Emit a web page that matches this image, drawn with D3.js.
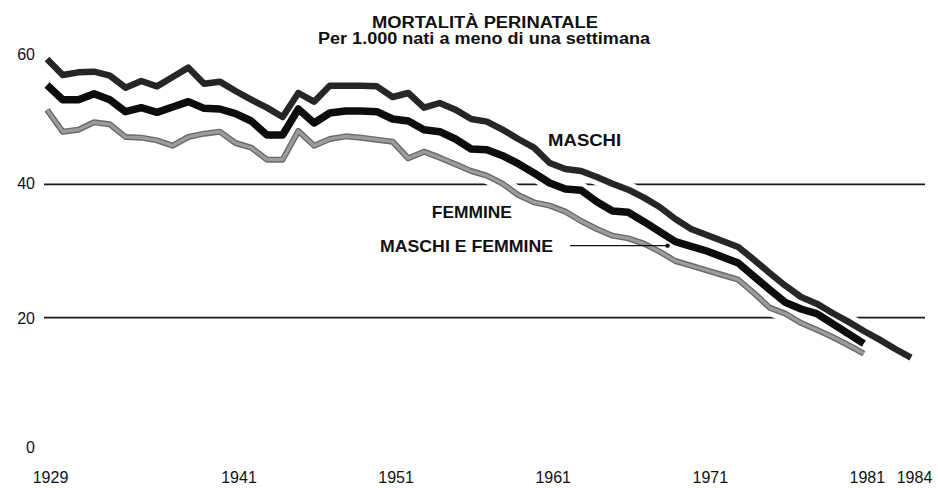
<!DOCTYPE html>
<html>
<head>
<meta charset="utf-8">
<script src="https://cdn.jsdelivr.net/npm/d3@7"></script>
<style>
  body { margin: 0; background: #fff; }
  svg { display: block; }
</style>
</head>
<body>
<div id="chart"></div>
<script>
// Data
const years = [1929, 1930, 1931, 1932, 1933, 1934, 1935, 1936, 1937, 1938,
               1939, 1940, 1941, 1942, 1943, 1944, 1945, 1946, 1947, 1948,
               1949, 1950, 1951, 1952, 1953, 1954, 1955, 1956, 1957, 1958,
               1959, 1960, 1961, 1962, 1963, 1964, 1965, 1966, 1967, 1968,
               1969, 1970, 1971, 1972, 1973, 1974, 1975, 1976, 1977, 1978,
               1979, 1980, 1981, 1982, 1983, 1984];

const maschi = [58.8, 56.4, 56.8, 56.9, 56.3, 54.5, 55.5, 54.7, 56.1, 57.5,
                55.1, 55.4, 54.0, 52.7, 51.5, 50.1, 53.7, 52.4, 54.8, 54.8,
                54.8, 54.7, 53.1, 53.7, 51.5, 52.2, 51.2, 49.8, 49.4, 48.2,
                46.8, 45.5, 43.2, 42.3, 42.0, 41.1, 40.1, 39.2, 38.0, 36.6,
                34.8, 33.3, 32.4, 31.5, 30.6, 28.7, 26.7, 24.8, 23.1, 22.1,
                20.7, 19.4, 18.0, 16.7, 15.3, 14.0];

const maschiEFemmine = [54.9, 52.7, 52.7, 53.6, 52.7, 50.9, 51.5, 50.8, 51.6, 52.4,
                        51.4, 51.3, 50.6, 49.5, 47.4, 47.4, 51.3, 49.2, 50.7, 51.0,
                        51.0, 50.9, 49.8, 49.5, 48.2, 47.9, 46.8, 45.3, 45.2, 44.3,
                        43.1, 41.7, 40.2, 39.3, 39.1, 37.4, 36.0, 35.8, 34.4, 32.9,
                        31.4, 30.7, 30.0, 29.1, 28.2, 26.2, 24.2, 22.3, 21.3, 20.6,
                        19.1, 17.6, 16.1];

const femmine = [51.2, 47.9, 48.2, 49.3, 49.0, 47.1, 47.0, 46.6, 45.8, 47.1,
                 47.6, 47.9, 46.2, 45.5, 43.7, 43.7, 48.0, 45.8, 46.8, 47.2,
                 47.0, 46.7, 46.4, 43.9, 44.9, 44.0, 43.0, 42.0, 41.3, 40.1,
                 38.4, 37.3, 36.8, 35.9, 34.5, 33.3, 32.3, 31.9, 31.1, 29.9,
                 28.5, 27.8, 27.1, 26.4, 25.7, 23.7, 21.5, 20.6, 19.2, 18.2,
                 17.1, 15.9, 14.6];

const yearTicks = [1929, 1941, 1951, 1961, 1971, 1981, 1984];
const valueTicks = [0, 20, 40, 60];
const gridValues = [20, 40];

// Constant
const width = 938;
const height = 488;
const fontFamily = `"Liberation Sans", Arial, Helvetica, sans-serif`;

const xScale = d3.scaleLinear()
                .domain([1929, 1984])
                .range([47, 911]);
const yScale = d3.scaleLinear()
                .domain([0, 60])
                .range([451, 51]);

const series = [
    {name: 'FEMMINE', values: femmine},
    {name: 'MASCHI E FEMMINE', values: maschiEFemmine},
    {name: 'MASCHI', values: maschi}
];

const strokeMap = {
    'MASCHI' : [{color: '#262626', width: 6.5}],
    'MASCHI E FEMMINE' : [{color: '#0d0d0d', width: 7.5}],
    'FEMMINE' : [{color: '#6a6a6a', width: 6}, {color: '#9c9c9c', width: 3.2}]
};

// label positions in data space: [year, value, text length]
const labelMap = {
    'MASCHI' : [1960.9, 45.75, 73],
    'FEMMINE' : [1953.5, 35.0, 80],
    'MASCHI E FEMMINE' : [1950.2, 29.85, 173]
};

// the printed tick labels sit a little off their values
const tickNudge = {0: -4, 20: 1, 40: -1, 60: 3};

const line = d3.line()
    .x((d, i) => xScale(years[i]))
    .y(d => yScale(d));

const svg = d3.select('#chart')
    .append('svg')
        .attr('width', width)
        .attr('height', height)
        .style('background', '#fff');

// title
svg.append('text')
    .attr('x', 485)
    .attr('y', 28)
    .attr('text-anchor', 'middle')
    .attr('textLength', 226)
    .attr('lengthAdjust', 'spacingAndGlyphs')
    .style('font', `bold 16px ${fontFamily}`)
    .attr('fill', '#111')
    .text('MORTALITÀ PERINATALE');

svg.append('text')
    .attr('x', 484)
    .attr('y', 43.5)
    .attr('text-anchor', 'middle')
    .attr('textLength', 332)
    .attr('lengthAdjust', 'spacingAndGlyphs')
    .style('font', `bold 16px ${fontFamily}`)
    .attr('fill', '#111')
    .text('Per 1.000 nati a meno di una settimana');

// grid lines
svg.selectAll('.grid')
    .data(gridValues)
    .join('line')
        .attr('class', 'grid')
        .attr('x1', 44)
        .attr('x2', 925)
        .attr('y1', d => yScale(d))
        .attr('y2', d => yScale(d))
        .attr('stroke', '#1a1a1a')
        .attr('stroke-width', 1.6);

// y axis
const yAxis = svg.append('g')
    .attr('transform', 'translate(35,0)')
    .call(d3.axisLeft(yScale).tickValues(valueTicks).tickSize(0).tickPadding(0))
    .call(g => g.select('.domain').remove());
yAxis.selectAll('text')
    .attr('y', d => tickNudge[d])
    .style('font', `16px ${fontFamily}`)
    .attr('fill', '#111');

// x axis
const xAxis = svg.append('g')
    .attr('transform', 'translate(3,472)')
    .call(d3.axisBottom(xScale).tickValues(yearTicks).tickFormat(d3.format('d')).tickSize(0).tickPadding(0))
    .call(g => g.select('.domain').remove());
xAxis.selectAll('text')
    .style('font', `16px ${fontFamily}`)
    .attr('fill', '#111');

// white halos cut the grid lines where the curves cross
svg.selectAll('.halo')
    .data(series)
    .join('path')
        .attr('class', 'halo')
        .attr('d', d => line(d.values))
        .attr('fill', 'none')
        .attr('stroke', '#fff')
        .attr('stroke-width', 16)
        .attr('stroke-linejoin', 'round');

series.forEach(s => {
    strokeMap[s.name].forEach(st => {
        svg.append('path')
            .attr('d', line(s.values))
            .attr('fill', 'none')
            .attr('stroke', st.color)
            .attr('stroke-width', st.width)
            .attr('stroke-linejoin', 'round');
    });
});

// labels
series.forEach(s => {
    const p = labelMap[s.name];
    svg.append('text')
        .attr('x', xScale(p[0]))
        .attr('y', yScale(p[1]))
        .attr('textLength', p[2])
        .attr('lengthAdjust', 'spacingAndGlyphs')
        .style('font', `bold 17px ${fontFamily}`)
        .attr('fill', '#111')
        .text(s.name);
});

// leader line for MASCHI E FEMMINE
svg.append('line')
    .attr('x1', xScale(1962.3))
    .attr('x2', xScale(1968.5))
    .attr('y1', yScale(30.8))
    .attr('y2', yScale(30.8))
    .attr('stroke', '#111')
    .attr('stroke-width', 1.3);
svg.append('circle')
    .attr('cx', xScale(1968.5))
    .attr('cy', yScale(30.8))
    .attr('r', 2.2)
    .attr('fill', '#111');
</script>
</body>
</html>
